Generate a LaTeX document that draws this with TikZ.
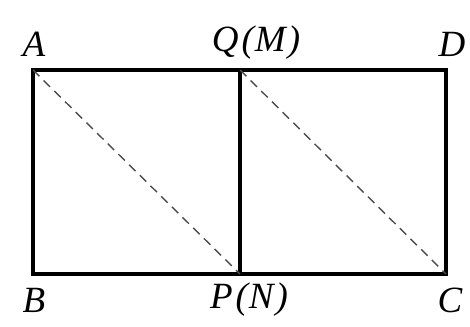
\documentclass[tikz,border=0pt]{standalone}
\usepackage{fontspec}
\setmainfont{Liberation Serif}
\begin{document}
\begin{tikzpicture}[x=1pt,y=-1pt,
  edge/.style={line width=3.2pt,line join=miter},
  diag/.style={line width=1.4pt,dash pattern=on 9pt off 6pt,black!70},
  lbl/.style={font=\fontsize{37}{37}\selectfont\itshape,inner sep=0pt}]
\useasboundingbox (0,0) rectangle (470,326);
\coordinate (A) at (33,70);
\coordinate (Q) at (240,70);
\coordinate (D) at (446,70);
\coordinate (B) at (33,274);
\coordinate (P) at (240,274);
\coordinate (C) at (446,274);
\draw[edge] (A) -- (D) -- (C) -- (B) -- cycle;
\draw[edge] (Q) -- (P);
\draw[diag] (A) -- (P);
\draw[diag] (Q) -- (C);
\node[lbl] (lA) at (34,44) {A};
\node[lbl] (lQ) at (256,43) {Q\kern3pt(\kern1pt M\kern2pt)};
\node[lbl] (lD) at (452,44) {D};
\node[lbl] (lB) at (34,300) {B};
\node[lbl] (lP) at (249,300) {P\kern3pt(\kern1pt N\kern2pt)};
\node[lbl] (lC) at (450,300) {C};
\end{tikzpicture}
\end{document}
